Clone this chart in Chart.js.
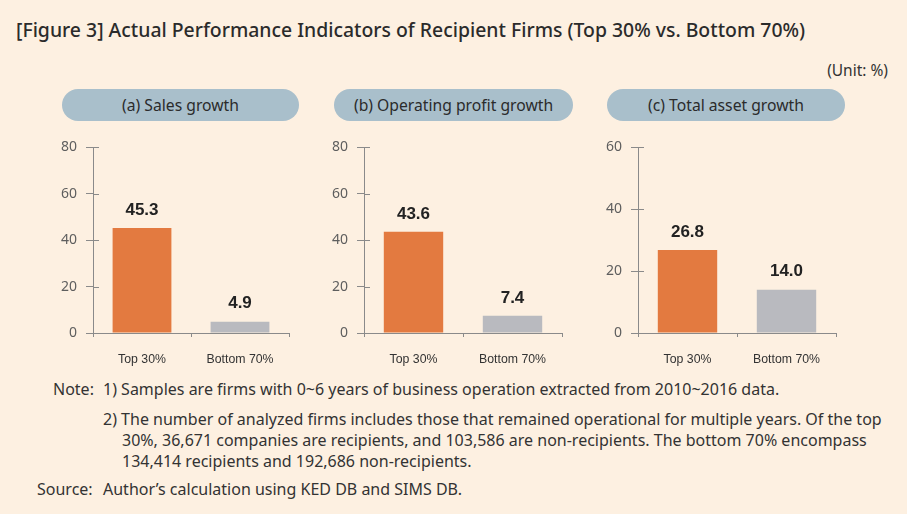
<!DOCTYPE html>
<html>
<head>
<meta charset="utf-8">
<script src="https://cdn.jsdelivr.net/npm/chart.js@4.4.1/dist/chart.umd.min.js"></script>
<style>
  html, body { margin: 0; padding: 0; }
  body { width: 907px; height: 514px; background: #fdf0e1; position: relative; overflow: hidden; font-family: "Noto Sans", sans-serif; color: #333; }
  .abs { position: absolute; white-space: nowrap; }
  #title { left: 16px; top: 16px; font-size: 19.4px; font-weight: 500; color: #2b2b2b; }
  #unit { right: 19px; top: 59px; font-size: 15.5px; color: #333; }
  .pill { position: absolute; top: 89px; height: 32px; border-radius: 16px; background: #a9bfcb; font-size: 15.7px; line-height: 32px; text-align: center; color: #2b2b2b; }
  canvas { position: absolute; top: 130px; }
  .note { font-size: 16px; color: #333; }
</style>
</head>
<body>
<div id="title" class="abs">[Figure 3] Actual Performance Indicators of Recipient Firms (Top 30% vs. Bottom 70%)</div>
<div id="unit" class="abs">(Unit: %)</div>

<div class="pill" style="left:62px;width:237px;" id="pill0"></div>
<div class="pill" style="left:334px;width:239px;" id="pill1"></div>
<div class="pill" style="left:607px;width:238px;" id="pill2"></div>

<canvas id="c0" width="252" height="243" style="left:38px"></canvas>
<canvas id="c1" width="254" height="243" style="left:309px"></canvas>
<canvas id="c2" width="254" height="243" style="left:583px"></canvas>

<div class="abs note" style="left:53px;top:378px;">Note:</div>
<div class="abs note" style="left:103px;top:378px;">1) Samples are firms with 0~6 years of business operation extracted from 2010~2016 data.</div>
<div class="abs note" style="left:103px;top:408px;">2) The number of analyzed firms includes those that remained operational for multiple years. Of the top</div>
<div class="abs note" style="left:122px;top:429px;">30%, 36,671 companies are recipients, and 103,586 are non-recipients. The bottom 70% encompass</div>
<div class="abs note" style="left:122px;top:450px;">134,414 recipients and 192,686 non-recipients.</div>
<div class="abs note" style="left:37px;top:478px;">Source:</div>
<div class="abs note" style="left:103px;top:478px;">Author’s calculation using KED DB and SIMS DB.</div>

<script>
// ================= DATA =================
const categories = ["Top 30%", "Bottom 70%"];
const panelTitles = ["(a) Sales growth", "(b) Operating profit growth", "(c) Total asset growth"];
const salesGrowth = [45.3, 4.9];
const profitGrowth = [43.6, 7.4];
const assetGrowth = [26.8, 14.0];
const axisMax = [80, 80, 60];
const axisStep = 20;

const barColors = ["#e37a40", "#b9babf"];
const axisColor = "#8a8a8a";

// ================= PLUGINS =================
// y ticks cross the axis, so draw the inner half by hand
const innerTicks = {
  id: "innerTicks",
  afterDraw(chart) {
    const ctx = chart.ctx;
    const y = chart.scales.y;
    const left = chart.chartArea.left;
    ctx.save();
    ctx.strokeStyle = axisColor;
    ctx.lineWidth = 1;
    ctx.beginPath();
    y.ticks.forEach((t, i) => {
      const py = Math.round(y.getPixelForTick(i)) + 0.5;
      ctx.moveTo(left, py);
      ctx.lineTo(left + 6, py);
    });
    ctx.stroke();
    ctx.restore();
  }
};

const valueLabels = {
  id: "valueLabels",
  afterDatasetsDraw(chart) {
    const ctx = chart.ctx;
    ctx.save();
    ctx.font = "bold 17px 'Liberation Sans', Arial, sans-serif";
    ctx.fillStyle = "#222";
    ctx.textAlign = "center";
    ctx.textBaseline = "middle";
    chart.getDatasetMeta(0).data.forEach((bar, i) => {
      const v = chart.data.datasets[0].data[i];
      ctx.fillText(v.toFixed(1), bar.x, bar.y - 18);
    });
    ctx.restore();
  }
};

// ================= CHARTS =================
function makeChart(id, values, max) {
  return new Chart(document.getElementById(id), {
    type: "bar",
    data: {
      labels: categories,
      datasets: [{
        data: values,
        backgroundColor: barColors,
        barPercentage: 0.6,
        categoryPercentage: 1.0
      }]
    },
    options: {
      responsive: false,
      animation: false,
      devicePixelRatio: 1,
      layout: { padding: { top: 13, right: 1, left: 0, bottom: 0 } },
      plugins: { legend: { display: false }, tooltip: { enabled: false } },
      scales: {
        x: {
          afterFit: s => { s.height = 40; },
          grid: { offset: true, drawOnChartArea: false, drawTicks: true, tickLength: 4, color: axisColor },
          border: { color: axisColor },
          ticks: { color: "#333", padding: 15, font: { family: "'Liberation Sans', Arial, sans-serif", size: 12.3 } }
        },
        y: {
          min: 0,
          max: max,
          afterFit: s => { s.width = 55; },
          grid: { drawOnChartArea: false, drawTicks: true, tickLength: 7, color: axisColor },
          border: { color: axisColor },
          ticks: { stepSize: axisStep, color: "#5e5e5e", padding: 9, font: { family: "'Noto Sans', sans-serif", size: 14 } }
        }
      }
    },
    plugins: [innerTicks, valueLabels]
  });
}

panelTitles.forEach((t, i) => { document.getElementById("pill" + i).textContent = t; });
makeChart("c0", salesGrowth, axisMax[0]);
makeChart("c1", profitGrowth, axisMax[1]);
makeChart("c2", assetGrowth, axisMax[2]);
</script>
</body>
</html>
